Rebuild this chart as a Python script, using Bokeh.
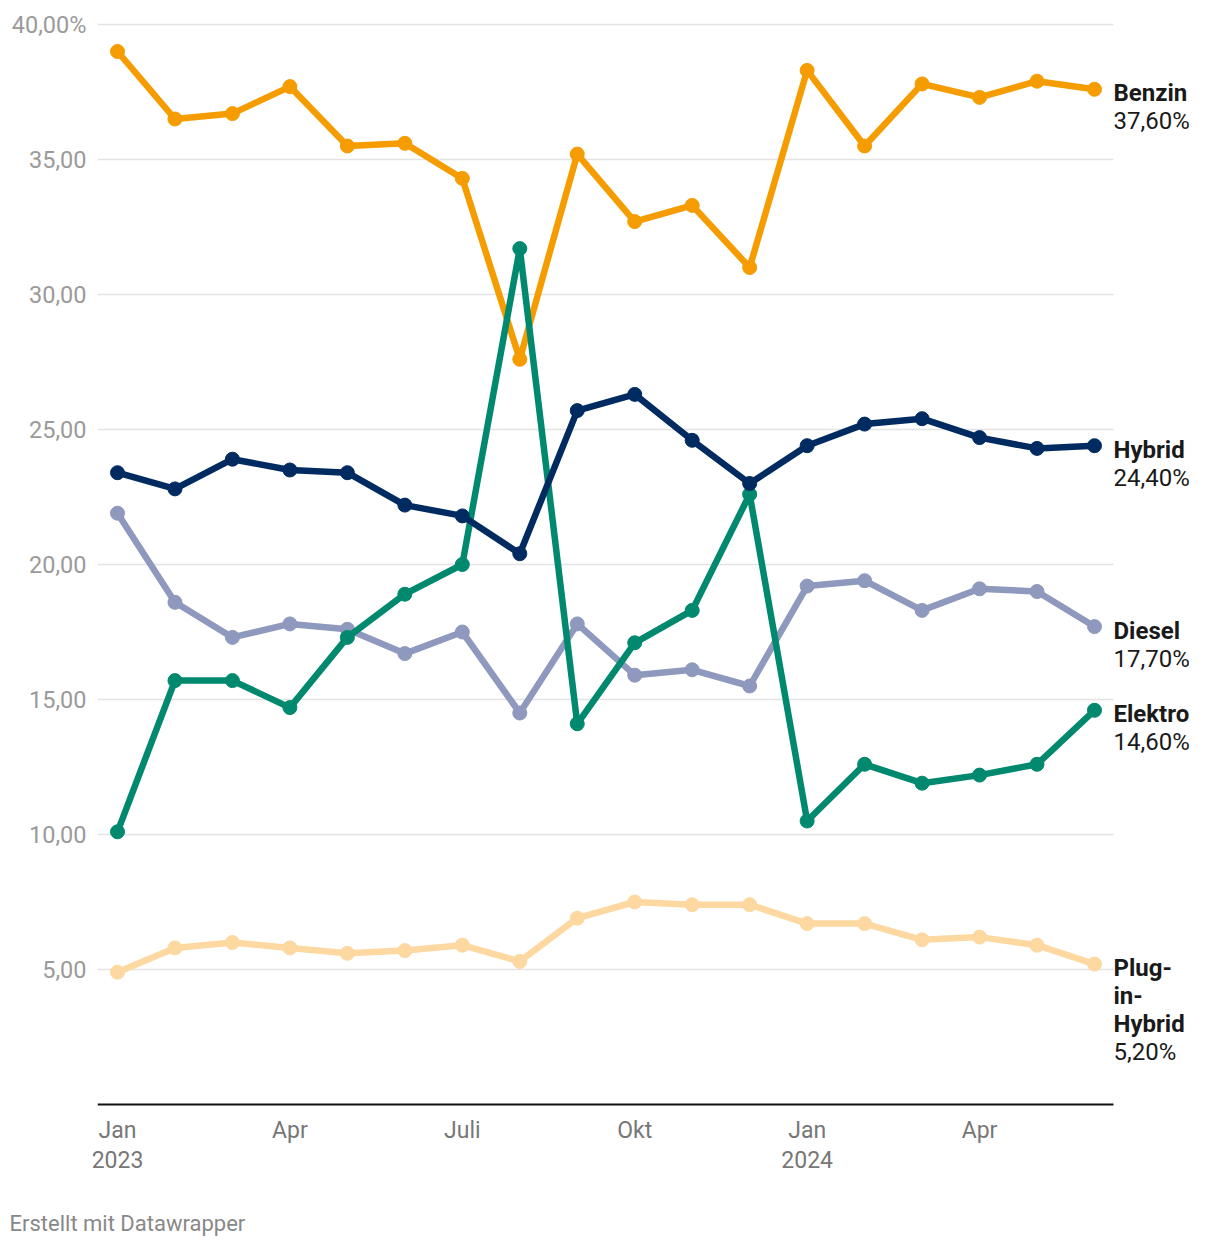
from bokeh.plotting import figure
from bokeh.models import FixedTicker, Range1d, Title, ColumnDataSource
from bokeh.core.properties import value
from bokeh.embed import file_html
from bokeh.resources import INLINE

months = list(range(18))  # Jan 2023 .. Jun 2024
month_labels = {0: "Jan\n2023", 3: "Apr", 6: "Juli", 9: "Okt", 12: "Jan\n2024", 15: "Apr"}

benzin  = [39.0, 36.5, 36.7, 37.7, 35.5, 35.6, 34.3, 27.6, 35.2, 32.7, 33.3, 31.0, 38.3, 35.5, 37.8, 37.3, 37.9, 37.6]
hybrid  = [23.4, 22.8, 23.9, 23.5, 23.4, 22.2, 21.8, 20.4, 25.7, 26.3, 24.6, 23.0, 24.4, 25.2, 25.4, 24.7, 24.3, 24.4]
diesel  = [21.9, 18.6, 17.3, 17.8, 17.6, 16.7, 17.5, 14.5, 17.8, 15.9, 16.1, 15.5, 19.2, 19.4, 18.3, 19.1, 19.0, 17.7]
elektro = [10.1, 15.7, 15.7, 14.7, 17.3, 18.9, 20.0, 31.7, 14.1, 17.1, 18.3, 22.6, 10.5, 12.6, 11.9, 12.2, 12.6, 14.6]
plugin  = [4.9, 5.8, 6.0, 5.8, 5.6, 5.7, 5.9, 5.3, 6.9, 7.5, 7.4, 7.4, 6.7, 6.7, 6.1, 6.2, 5.9, 5.2]

y_ticks = [5, 10, 15, 20, 25, 30, 35, 40]
y_tick_labels = {5: "5,00", 10: "10,00", 15: "15,00", 20: "20,00", 25: "25,00",
                 30: "30,00", 35: "35,00", 40: "40,00%"}

# drawing order bottom -> top
series = [
    (["Plug-", "in-", "Hybrid"], plugin, "#fdd8a0"),
    (["Diesel"], diesel, "#8f98bd"),
    (["Benzin"], benzin, "#f59c00"),
    (["Elektro"], elektro, "#00896e"),
    (["Hybrid"], hybrid, "#002b61"),
]

FONT = "Roboto"
PX_PER_MONTH = 57.47
PX_PER_UNIT = 27.0
FRAME_W = 1110
FRAME_H = 1092

x_start = -20 / PX_PER_MONTH
x_end = x_start + FRAME_W / PX_PER_MONTH
x_plot_end = 17 + 19 / PX_PER_MONTH      # right end of gridlines / baseline
y_start = -2 / PX_PER_UNIT
y_end = y_start + FRAME_H / PX_PER_UNIT

p = figure(width=1212, height=1242, frame_width=FRAME_W, frame_height=FRAME_H,
           min_border_left=97, min_border_top=14, min_border_right=4, min_border_bottom=4,
           output_backend="svg", toolbar_location=None,
           x_range=Range1d(x_start, x_end), y_range=Range1d(y_start, y_end))
p.outline_line_color = None
p.background_fill_color = "white"
p.border_fill_color = "white"
p.xgrid.visible = False
p.ygrid.visible = False

# horizontal gridlines limited to the chart area
p.segment(x0=[x_start] * len(y_ticks), x1=[x_plot_end] * len(y_ticks), y0=y_ticks, y1=y_ticks,
          line_color="#e3e3e3", line_width=1.5)
# baseline
p.segment(x0=[x_start], x1=[x_plot_end], y0=[0], y1=[0], line_color="#111111", line_width=2)

p.yaxis.ticker = FixedTicker(ticks=y_ticks)
p.yaxis.major_label_overrides = y_tick_labels
p.yaxis.axis_line_color = None
p.yaxis.major_tick_line_color = None
p.yaxis.minor_tick_line_color = None
p.yaxis.major_label_standoff = 5
p.yaxis.major_label_text_font = FONT
p.yaxis.major_label_text_font_size = "23.5px"
p.yaxis.major_label_text_color = "#9a9a9a"

p.xaxis.ticker = FixedTicker(ticks=list(month_labels.keys()))
p.xaxis.major_label_overrides = month_labels
p.xaxis.axis_line_color = None
p.xaxis.major_tick_line_color = None
p.xaxis.minor_tick_line_color = None
p.xaxis.major_label_standoff = 4
p.xaxis.major_label_text_font = FONT
p.xaxis.major_label_text_font_size = "23px"
p.xaxis.major_label_text_color = "#777777"
p.xaxis.major_label_text_line_height = 1.12

for names, vals, color in series:
    p.line(months, vals, line_color=color, line_width=6.5, line_join="round")
    p.scatter(months, vals, size=14, fill_color=color, line_color=color)

# end labels
lab_x, lab_y, lab_t, lab_style = [], [], [], []
x_label = x_plot_end
for names, vals, color in series:
    last = vals[-1]
    y0 = last - 4 / PX_PER_UNIT
    lines = names + [f"{last:.2f}".replace(".", ",") + "%"]
    for i, txt in enumerate(lines):
        lab_x.append(x_label)
        lab_y.append(y0 - i * 28 / PX_PER_UNIT)
        lab_t.append(txt)
        lab_style.append("bold" if i < len(names) else "normal")
src = ColumnDataSource(dict(x=lab_x, y=lab_y, text=lab_t, style=lab_style))
p.text(x="x", y="y", text="text", source=src, text_font=value(FONT), text_font_size="24px",
       text_font_style="style", text_color="#1a1a1a", text_align="left", text_baseline="middle")

footer = Title(text="Erstellt mit Datawrapper", align="left", offset=-88,
               text_font=FONT, text_font_size="22px", text_font_style="normal",
               text_color="#888888", standoff=64)
p.add_layout(footer, "below")

open("out.html", "w").write(file_html(p, INLINE))
